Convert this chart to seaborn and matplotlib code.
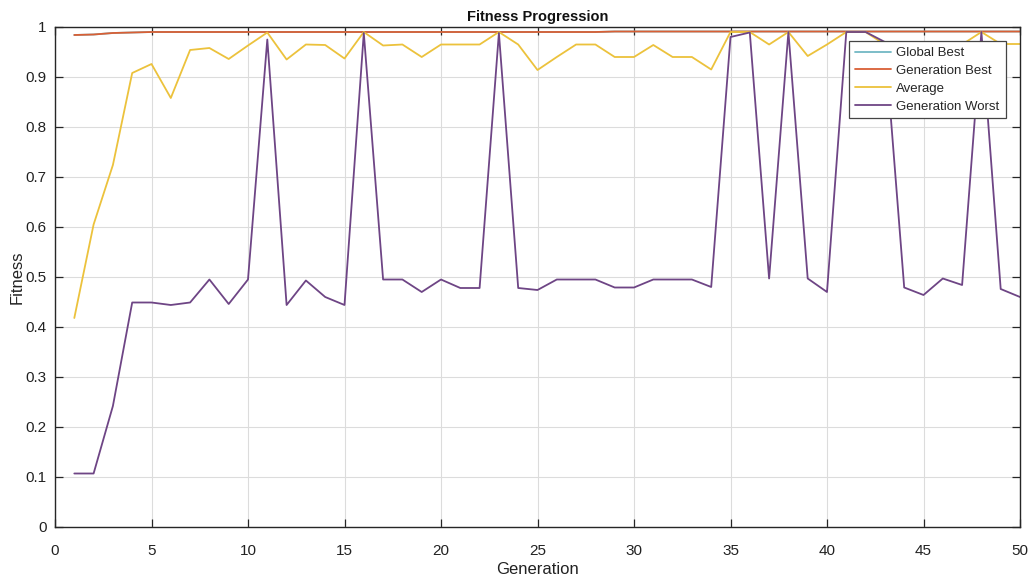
import numpy as np
import pandas as pd
import matplotlib
matplotlib.use("Agg")
import matplotlib.pyplot as plt
import seaborn as sns

generations = list(range(1, 51))
global_best = [0.984, 0.985, 0.988, 0.989, 0.990, 0.990, 0.990, 0.990, 0.990, 0.990,
               0.990, 0.990, 0.990, 0.990, 0.990, 0.990, 0.990, 0.990, 0.990, 0.990,
               0.990, 0.990, 0.990, 0.990, 0.990, 0.990, 0.990, 0.990, 0.991, 0.991,
               0.991, 0.991, 0.991, 0.991, 0.991, 0.991, 0.991, 0.991, 0.991, 0.991,
               0.991, 0.991, 0.991, 0.991, 0.991, 0.991, 0.991, 0.991, 0.991, 0.991]
generation_best = [0.984, 0.985, 0.988, 0.989, 0.990, 0.990, 0.990, 0.990, 0.990, 0.990,
                   0.990, 0.990, 0.990, 0.990, 0.990, 0.990, 0.990, 0.990, 0.990, 0.990,
                   0.990, 0.990, 0.990, 0.990, 0.990, 0.990, 0.990, 0.990, 0.991, 0.991,
                   0.991, 0.991, 0.991, 0.991, 0.991, 0.991, 0.991, 0.991, 0.991, 0.991,
                   0.991, 0.991, 0.991, 0.991, 0.991, 0.991, 0.991, 0.991, 0.991, 0.991]
average = [0.418, 0.605, 0.724, 0.908, 0.926, 0.858, 0.954, 0.958, 0.936, 0.963,
           0.989, 0.935, 0.965, 0.964, 0.937, 0.990, 0.963, 0.965, 0.940, 0.965,
           0.965, 0.965, 0.990, 0.965, 0.914, 0.940, 0.965, 0.965, 0.940, 0.940,
           0.964, 0.940, 0.940, 0.915, 0.990, 0.990, 0.965, 0.990, 0.942, 0.965,
           0.990, 0.990, 0.965, 0.940, 0.942, 0.964, 0.965, 0.990, 0.966, 0.966]
generation_worst = [0.107, 0.107, 0.242, 0.449, 0.449, 0.444, 0.449, 0.495, 0.446, 0.495,
                    0.975, 0.444, 0.493, 0.460, 0.444, 0.988, 0.495, 0.495, 0.470, 0.495,
                    0.478, 0.478, 0.988, 0.478, 0.474, 0.495, 0.495, 0.495, 0.479, 0.479,
                    0.495, 0.495, 0.495, 0.480, 0.980, 0.989, 0.497, 0.990, 0.497, 0.470,
                    0.990, 0.990, 0.970, 0.479, 0.464, 0.497, 0.484, 0.990, 0.476, 0.460]

series_names = ["Global Best", "Generation Best", "Average", "Generation Worst"]
series_colors = ["#72b8c4", "#d95f35", "#ecc23c", "#6e4585"]
x_ticks = list(range(0, 51, 5))
y_ticks = [0, 0.1, 0.2, 0.3, 0.4, 0.5, 0.6, 0.7, 0.8, 0.9, 1]
y_tick_labels = ["0", "0.1", "0.2", "0.3", "0.4", "0.5", "0.6", "0.7", "0.8", "0.9", "1"]

frames = []
for name, vals in zip(series_names, [global_best, generation_best, average, generation_worst]):
    frames.append(pd.DataFrame({"Generation": generations, "Fitness": vals, "Series": name}))
df = pd.concat(frames, ignore_index=True)

sns.set_theme(style="whitegrid")
plt.rcParams["font.family"] = ["Liberation Sans", "DejaVu Sans"]

fig = plt.figure(figsize=(10.35, 5.8), dpi=100)
ax = fig.add_axes([55 / 1035, 53 / 580, 965 / 1035, 500 / 580])

sns.lineplot(data=df, x="Generation", y="Fitness", hue="Series",
             hue_order=series_names, palette=dict(zip(series_names, series_colors)),
             linewidth=1.3, ax=ax, sort=False, estimator=None)

ax.set_xlim(0, 50)
ax.set_ylim(0, 1)
ax.set_xticks(x_ticks)
ax.set_xticklabels([str(t) for t in x_ticks])
ax.set_yticks(y_ticks)
ax.set_yticklabels(y_tick_labels)
ax.set_facecolor("white")
ax.grid(True, color="#dcdcdc", linewidth=0.8)
for s in ax.spines.values():
    s.set_visible(True)
    s.set_color("#262626")
    s.set_linewidth(1.0)
ax.tick_params(axis="both", direction="in", length=6, width=0.9, color="#262626",
               labelsize=11, labelcolor="#222222", top=True, right=True,
               bottom=True, left=True)
ax.tick_params(axis="x", pad=12)
ax.tick_params(axis="y", pad=6)
ax.set_xlabel("Generation", fontsize=12, color="#222222", labelpad=3)
ax.set_ylabel("Fitness", fontsize=12, color="#222222", labelpad=1)
ax.set_title("Fitness Progression", fontsize=10.5, fontweight="bold", color="#111111", pad=4)

leg = ax.legend(loc="upper right", bbox_to_anchor=(0.985, 0.972), fontsize=9.5,
                frameon=True, fancybox=False, handlelength=2.7, handletextpad=0.4,
                borderpad=0.45, labelspacing=0.42, borderaxespad=0.0)
leg.get_frame().set_edgecolor("#444444")
leg.get_frame().set_linewidth(0.9)
leg.get_frame().set_alpha(1.0)

fig.savefig("out.png", dpi=100)
